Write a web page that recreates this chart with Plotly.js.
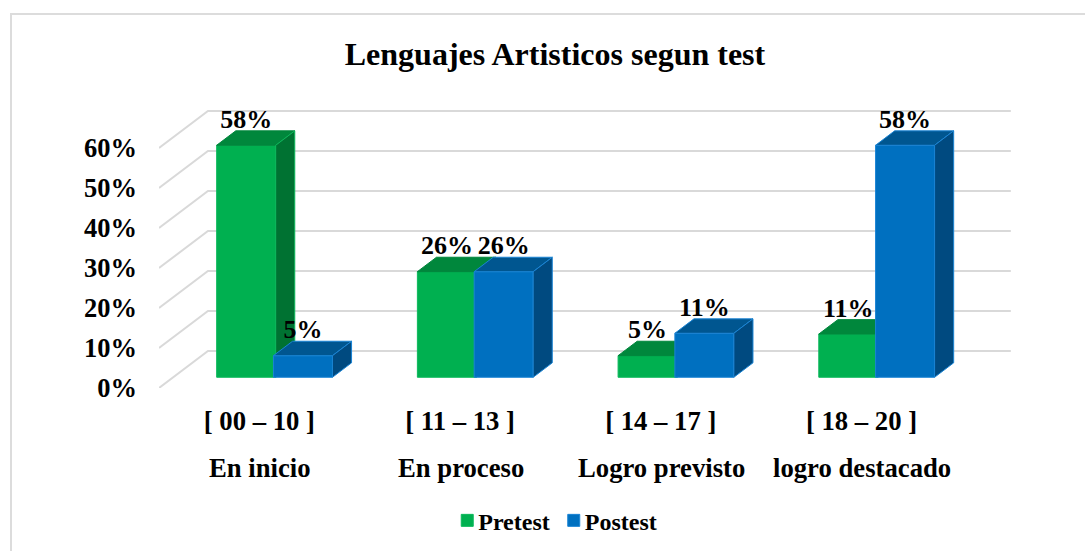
<!DOCTYPE html>
<html>
<head>
<meta charset="utf-8">
<script src="https://cdn.plot.ly/plotly-3.0.1.min.js"></script>
<style>
  html, body { margin: 0; padding: 0; background: #fff; overflow: hidden; }
  #frame { position: absolute; left: 10px; top: 13px; right: 0; bottom: 0; border-top: 2px solid #dcdcdc; border-left: 2px solid #dcdcdc; pointer-events: none; }
</style>
</head>
<body>
<div id="chart"></div>
<div id="frame"></div>
<script>
const ranges = ["[ 00 – 10 ]", "[ 11 – 13 ]", "[ 14 – 17 ]", "[ 18 – 20 ]"]
const levels = ["En inicio", "En proceso", "Logro previsto", "logro destacado"]
const pretest = [58, 26.4, 5.4, 10.8]
const postest = [5.4, 26.4, 11, 58]
const yTicks = [0, 10, 20, 30, 40, 50, 60]

const font = "Liberation Serif"

// fake 3D: a point at depth d moves right and up by d times these (axis units)
const depthX = 0.244
const depthY = 9.25
const floorD = 0.29
const backD = 0.68
const barW = 0.294
const centers = ranges.map((_, i) => i + 0.5)
const greenOffset = floorD * depthX - 0.2834
const blueOffset = floorD * depthX - 0.0005
const floorY = floorD * depthY

// top and side faces of the bars of one series, as null separated polygons
const faces = (values, offset) => {
  const top = {x: [], y: []}
  const side = {x: [], y: []}
  const dx = (backD - floorD) * depthX
  const dy = (backD - floorD) * depthY
  values.forEach((v, i) => {
    const x0 = centers[i] + offset
    const x1 = x0 + barW
    const h = floorY + v
    top.x.push(x0, x1, x1 + dx, x0 + dx, x0, null)
    top.y.push(h, h, h + dy, h + dy, h, null)
    side.x.push(x1, x1, x1 + dx, x1 + dx, x1, null)
    side.y.push(floorY, h, h + dy, floorY + dy, floorY, null)
  })
  return {top, side}
}

const polygon = (pts, fill, edge, xa, ya) => ({
  x: pts.x, y: pts.y, xaxis: xa, yaxis: ya, type: "scatter", mode: "lines", fill: "toself",
  fillcolor: fill, line: {color: edge, width: 1}, showlegend: false, hoverinfo: "skip"
})

const bars = (name, values, offset, color, edge, xa, ya) => ({
  x: centers, y: values, base: values.map(() => floorY), offset, width: barW, xaxis: xa, yaxis: ya,
  type: "bar", name, marker: {color, line: {color: edge, width: 1}}
})

const labels = (values, offset) => ({
  x: centers.map(c => c + offset + barW / 2),
  y: values.map(v => floorY + v + (backD - floorD) * depthY - 0.9),
  text: values.map(v => Math.round(v) + "%"),
  xaxis: "x3", yaxis: "y3", type: "scatter", mode: "text", textposition: "top center",
  textfont: {family: font, size: 26, color: "#000", weight: "bold"},
  cliponaxis: false, showlegend: false, hoverinfo: "skip"
})

// back wall lines: slanted from the axis, then flat along the wall
const gridX = []
const gridY = []
for (const t of yTicks) {
  gridX.push(0, depthX, 4 + depthX, null)
  gridY.push(t, t + depthY, t + depthY, null)
}

const greenFaces = faces(pretest, greenOffset)
const blueFaces = faces(postest, blueOffset)

const data = [
  {x: gridX, y: gridY, type: "scatter", mode: "lines", line: {color: "#d9d9d9", width: 2}, showlegend: false, hoverinfo: "skip"},
  bars("Pretest", pretest, greenOffset, "#00b050", "#0cb95c", "x2", "y2"),
  polygon(greenFaces.top, "#00873c", "#00873c", "x2", "y2"),
  polygon(greenFaces.side, "#007232", "#0cb95c", "x2", "y2"),
  bars("Postest", postest, blueOffset, "#0070c0", "#1a84d4", "x3", "y3"),
  polygon(blueFaces.top, "#005690", "#1a84d4", "x3", "y3"),
  polygon(blueFaces.side, "#004a80", "#1a84d4", "x3", "y3"),
  labels(pretest, greenOffset),
  labels(postest, blueOffset)
]

const xRange = [0, 4.25]
const yRange = [0, 70]
const overlayX = {overlaying: "x", range: xRange, visible: false, fixedrange: true}
const overlayY = {overlaying: "y", range: yRange, visible: false, fixedrange: true}

const layout = {
  width: 1085, height: 551, autosize: false,
  margin: {l: 159, r: 73, t: 108, b: 163},
  paper_bgcolor: "#fff", plot_bgcolor: "rgba(0,0,0,0)",
  barmode: "overlay",
  title: {text: "<b>Lenguajes Artisticos segun test</b>", x: 0.5115, xanchor: "center", y: 0.903, yanchor: "middle", font: {family: font, size: 32, color: "#000"}},
  xaxis: {
    range: xRange, tickvals: centers, ticktext: ranges, showgrid: false, zeroline: false, showline: false,
    ticks: "", ticklabelstandoff: 14, fixedrange: true, automargin: false,
    tickfont: {family: font, size: 26.7, color: "#000", weight: "bold"}
  },
  yaxis: {
    range: yRange, tickvals: yTicks, ticktext: yTicks.map(t => t + "%"), showgrid: false, zeroline: false, showline: false,
    ticks: "", ticklabelstandoff: 21, fixedrange: true,
    tickfont: {family: font, size: 26.5, color: "#000", weight: "bold"}
  },
  xaxis2: overlayX, yaxis2: overlayY,
  xaxis3: overlayX, yaxis3: overlayY,
  annotations: levels.map((t, i) => ({
    text: "<b>" + t + "</b>", xref: "x", x: centers[i], xshift: 1, yref: "paper", y: -0.287, yanchor: "middle", showarrow: false,
    font: {family: font, size: 26.7, color: "#000"}
  })),
  legend: {
    orientation: "h", xref: "container", yref: "container", x: 0.4122, xanchor: "left", y: 0.0957, yanchor: "top",
    font: {family: font, size: 24, color: "#000", weight: "bold"}, bgcolor: "rgba(0,0,0,0)"
  },
  showlegend: true
}

Plotly.newPlot("chart", data, layout, {displayModeBar: false, staticPlot: true}).then(gd => {
  // legend text sits closer to its swatch than plotly's minimum item width allows
  const items = gd.querySelectorAll(".legend .traces")
  items.forEach((item, i) => {
    const text = item.querySelector(".legendtext")
    text.setAttribute("x", Number(text.getAttribute("x")) - 9)
    if (i > 0) {
      const m = item.getAttribute("transform").match(/translate\(([-\d.]+)[, ]+([-\d.]+)\)/)
      item.setAttribute("transform", `translate(${Number(m[1]) - 10}, ${m[2]})`)
    }
  })
})
</script>
</body>
</html>
